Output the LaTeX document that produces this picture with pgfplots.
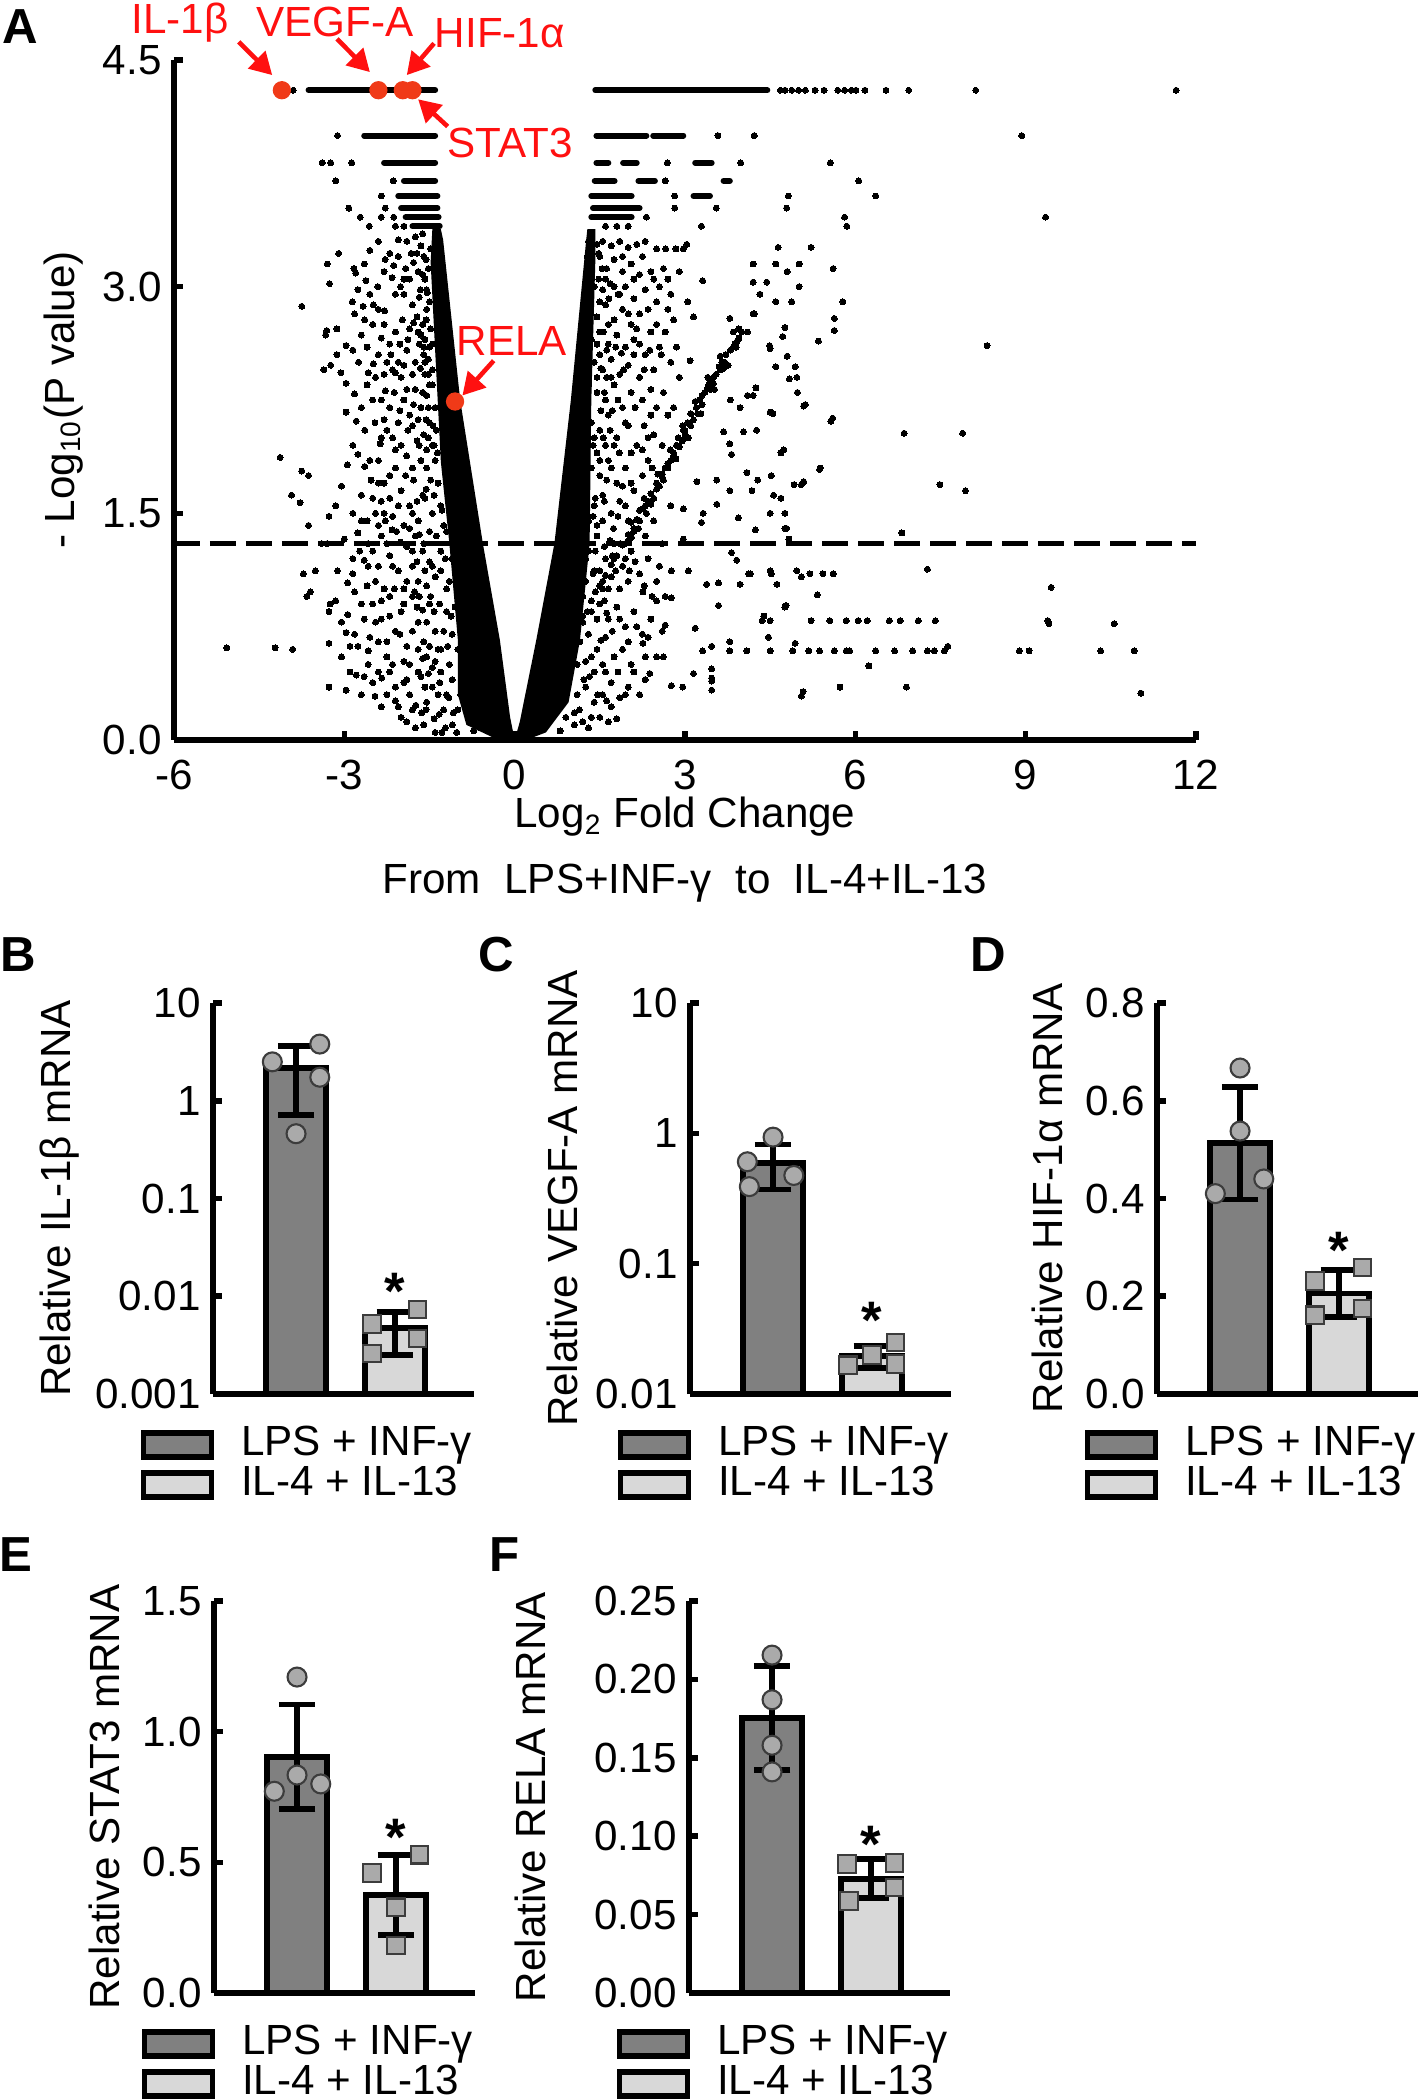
\documentclass[border=0pt]{standalone}
\usepackage{fontspec}
\setmainfont{Liberation Sans}
\usepackage{pgfplots}
\pgfplotsset{compat=1.18}
\usetikzlibrary{arrows.meta}

\definecolor{lpsgray}{RGB}{128,128,128}
\definecolor{ilgray}{RGB}{216,216,216}
\definecolor{ptgray}{RGB}{170,170,170}
\definecolor{ptedge}{RGB}{60,60,60}
\definecolor{annred}{RGB}{255,16,16}
\definecolor{dotred}{RGB}{240,58,24}

\newcommand\tickfont{\fontsize{12}{14}\selectfont}
\newcommand\labfont{\fontsize{12}{14}\selectfont}
\newcommand\annfont{\fontsize{12}{14}\selectfont}
\newcommand\letterfont{\fontsize{14}{16}\selectfont\bfseries}

\tikzset{starnode/.style={font=\fontsize{15}{15}\selectfont\bfseries, yshift=-0.12cm}}

\pgfplotsset{
  panel/.style={
    scale only axis, anchor=south west, clip=false,
    axis lines=left, axis line style={-, line width=1.6pt},
    tick align=inside, major tick length=0.09cm,
    tick style={black, line width=1.6pt},
    tick label style={font=\tickfont},
    label style={font=\labfont},
  },
  barpanel/.style={
    panel, width=2.61cm, height=3.91cm,
    xmin=0.16, xmax=2.8, xtick=\empty,
    legend cell align=left,
    legend style={draw=none, fill=none, inner sep=0pt,
      at={(-0.28,-0.078)}, anchor=north west,
      font=\labfont, row sep=0pt,
      nodes={inner sep=0.01cm, text height=0.29cm, text depth=0.09cm},
      /tikz/every odd column/.append style={column sep=0.26cm}},
  },
  lpsbar/.style={ybar, bar width=0.61, bar shift=0pt, fill=lpsgray, draw=black, line width=1.6pt,
    legend image code/.code={\draw[##1,/tikz/.cd,line width=1.6pt] (0cm,-0.12cm) rectangle (0.68cm,0.12cm);}},
  ilbar/.style={lpsbar, fill=ilgray},
  lpspts/.style={forget plot, only marks, mark=*, mark size=2.7pt,
    mark options={fill=ptgray, draw=ptedge, line width=0.6pt}},
  ilpts/.style={forget plot, only marks, mark=square*, mark size=2.5pt,
    mark options={fill=ptgray, draw=ptedge, line width=0.6pt}},
  sdbars/.style={forget plot, draw=none, mark=none,
    error bars/.cd, y dir=both, y explicit,
    error bar style={draw=black, line width=1.6pt},
    error mark options={rotate=90, draw=black, line width=1.6pt, mark size=5.2pt}},
  vdots/.style={only marks, mark=*, mark size=0.85pt, mark options={fill=black, draw=black, line width=0pt}},
  rowseg/.style={black, line width=1.7pt, line cap=round},
}

\begin{document}
\begin{tikzpicture}
\useasboundingbox (0,0) rectangle (14.23,21.00);

% ---------------- A: volcano plot
\begin{axis}[panel,
  at={(1.74cm,13.60cm)}, width=10.22cm, height=6.80cm,
  xmin=-6, xmax=12, ymin=0, ymax=4.5,
  xtick={-6,-3,0,3,6,9,12}, xticklabels={-6,-3,0,3,6,9,12},
  ytick={0,1.5,3,4.5}, yticklabels={0.0,1.5,3.0,4.5},
  xticklabel style={yshift=-0.08cm},
  xlabel={Log\textsubscript{2} Fold Change},
  ylabel={- Log\textsubscript{10}(P value)},
  xlabel style={at={(axis description cs:0.5,-0.113)}, anchor=center},
  ylabel style={at={(axis description cs:-0.108,0.5)}, anchor=center},
]
% dense cores of the V
\addplot[fill=black, draw=none] coordinates {
  (0,0) (-0.4,0.02) (-0.85,0.1) (-1.0,0.3) (-1.0,0.66) (-1.15,1.3) (-1.3,1.84) (-1.42,2.72)
  (-1.48,3.16) (-1.45,3.38) (-1.3,3.38) (-1.26,3.31) (-0.96,2.25) (-0.56,1.3) (-0.26,0.66) (-0.08,0.15)} --cycle;
\addplot[fill=black, draw=none] coordinates {
  (0,0) (0.09,0.12) (0.38,0.66) (0.70,1.3) (0.99,2.25) (1.26,3.31) (1.28,3.38) (1.42,3.38)
  (1.42,3.16) (1.35,2.25) (1.32,1.3) (1.15,0.66) (0.95,0.25) (0.55,0.05) (0.2,0.0)} --cycle;

% discrete p-value rows (runs of touching points)
\addplot[rowseg] coordinates {(-3.63,4.30) (-1.40,4.30)};
\addplot[rowseg] coordinates {(1.42,4.30) (4.45,4.30)};
\addplot[rowseg] coordinates {(-2.65,4.00) (-1.40,4.00)};
\addplot[rowseg] coordinates {(1.44,4.00) (2.32,4.00)};
\addplot[rowseg] coordinates {(2.44,4.00) (2.97,4.00)};
\addplot[rowseg] coordinates {(-2.30,3.82) (-1.40,3.82)};
\addplot[rowseg] coordinates {(1.44,3.82) (1.65,3.82)};
\addplot[rowseg] coordinates {(1.91,3.82) (2.15,3.82)};
\addplot[rowseg] coordinates {(3.18,3.82) (3.47,3.82)};
\addplot[rowseg] coordinates {(-1.95,3.70) (-1.40,3.70)};
\addplot[rowseg] coordinates {(1.41,3.70) (1.76,3.70)};
\addplot[rowseg] coordinates {(2.18,3.70) (2.47,3.70)};
\addplot[rowseg] coordinates {(3.68,3.70) (3.79,3.70)};
\addplot[rowseg] coordinates {(-2.05,3.60) (-1.36,3.60)};
\addplot[rowseg] coordinates {(1.35,3.60) (2.06,3.60)};
\addplot[rowseg] coordinates {(3.15,3.60) (3.44,3.60)};
\addplot[rowseg] coordinates {(-2.00,3.52) (-1.36,3.52)};
\addplot[rowseg] coordinates {(1.38,3.52) (2.20,3.52)};
\addplot[rowseg] coordinates {(-1.92,3.46) (-1.34,3.46)};
\addplot[rowseg] coordinates {(1.35,3.46) (2.06,3.46)};
\addplot[rowseg] coordinates {(-1.80,3.40) (-1.32,3.40)};

% single points on the rows
\addplot[vdots] coordinates {
  (-3.90,4.30) (4.68,4.30) (4.76,4.30) (4.88,4.30) (5.00,4.30) (5.12,4.30) (5.29,4.30) (5.45,4.30)
  (5.69,4.30) (5.81,4.30) (5.93,4.30) (6.01,4.30) (6.17,4.30) (6.54,4.30) (6.94,4.30) (8.12,4.30) (11.65,4.30)
  (-3.12,4.00) (3.58,4.00) (4.22,4.00) (8.93,4.00)
  (-3.39,3.82) (-3.24,3.82) (-2.87,3.82) (2.69,3.82) (3.98,3.82) (5.56,3.82)
  (-3.15,3.70) (-2.14,3.70) (2.65,3.70) (6.06,3.70)
  (-2.35,3.60) (2.82,3.60) (4.82,3.60) (6.36,3.60)
  (-2.92,3.52) (-2.28,3.52) (2.82,3.52) (3.55,3.52) (4.79,3.52)
  (-2.72,3.46) (-2.35,3.46) (-2.13,3.46) (2.32,3.46) (5.81,3.46) (9.35,3.46)
  (-2.56,3.40) (-2.10,3.40) (-1.95,3.40) (1.60,3.40) (1.80,3.40) (2.00,3.40) (3.29,3.40) (5.85,3.40)
};

% left side scatter
\addplot[vdots] coordinates {
  (-1.62,3.35) (-1.75,3.33) (-1.90,3.30) (-2.05,3.31) (-2.40,3.30) (-2.55,3.24) (-2.28,3.18) (-2.13,3.14)
  (-2.16,3.06) (-2.01,3.00) (-1.85,3.05) (-1.70,3.10) (-1.60,3.20) (-1.55,2.98) (-1.68,2.93) (-1.80,2.88)
  (-1.95,2.95) (-2.41,3.00) (-2.62,3.04) (-2.76,2.98) (-2.83,3.12) (-2.80,3.09) (-3.10,3.22) (-3.30,3.15)
  (-3.26,3.02) (-2.86,2.90) (-2.29,2.84) (-2.49,2.88) (-2.67,2.87) (-3.75,2.87) (-2.20,3.22) (-1.65,3.27)
  (-1.78,3.16) (-1.92,3.12) (-2.05,3.20) (-1.52,3.12) (-1.58,3.05) (-1.72,3.22)
  (-3.33,2.68) (-3.31,2.71) (-3.13,2.72) (-2.82,2.82) (-2.64,2.78) (-2.97,2.61) (-2.85,2.58) (-3.24,2.48)
  (-3.36,2.45) (-3.13,2.55) (-3.06,2.43) (-2.58,2.43) (-2.49,2.49) (-1.55,2.85) (-1.62,2.75) (-1.72,2.80)
  (-1.85,2.72) (-1.98,2.78) (-2.10,2.70) (-2.20,2.62) (-2.35,2.66) (-1.50,2.60) (-1.60,2.55) (-1.75,2.50)
  (-1.90,2.58) (-2.05,2.50) (-2.15,2.45) (-2.40,2.55) (-1.45,2.45) (-1.58,2.42) (-1.68,2.62) (-1.80,2.42)
  (-2.00,2.40) (-2.25,2.50) (-2.70,2.68) (-2.50,2.75) (-1.48,2.72) (-1.65,2.68) (-1.52,2.52)
  (-2.97,2.36) (-2.82,2.29) (-2.97,2.17) (-2.28,2.31) (-2.10,2.43) (-2.79,2.11) (-2.64,2.05) (-2.46,2.10)
  (-2.37,1.96) (-2.85,1.95) (-2.76,1.89) (-1.45,2.35) (-1.55,2.28) (-1.65,2.20) (-1.75,2.32) (-1.85,2.15)
  (-1.95,2.25) (-2.05,2.10) (-2.20,2.20) (-1.50,2.10) (-1.60,2.02) (-1.72,1.98) (-1.88,2.05) (-2.00,1.95)
  (-2.15,2.00) (-2.30,2.12) (-1.42,1.95) (-1.55,1.92) (-2.50,2.25) (-2.60,2.35) (-1.40,2.20) (-1.38,2.05)
  (-2.64,1.81) (-2.53,1.72) (-4.13,1.87) (-3.75,1.78) (-3.63,1.75) (-3.93,1.62) (-3.78,1.57) (-3.63,1.42)
  (-3.27,1.48) (-2.28,1.45) (-2.16,1.39) (-2.95,1.82) (-3.05,1.68) (-3.15,1.55) (-2.85,1.50) (-2.70,1.62)
  (-2.40,1.85) (-2.30,1.70) (-2.20,1.60) (-2.10,1.80) (-2.00,1.65) (-1.90,1.88) (-1.85,1.55) (-1.78,1.72)
  (-1.70,1.45) (-1.62,1.62) (-1.55,1.80) (-1.45,1.50) (-1.35,1.70) (-1.40,1.85) (-2.45,1.50) (-2.60,1.45)
  (-1.95,1.42) (-2.35,1.58) (-2.15,1.48) (-1.30,1.55) (-1.25,1.42)
  (-2.76,1.37) (-2.58,1.30) (-2.73,1.25) (-2.65,1.19) (-2.58,1.15) (-2.01,1.31) (-3.72,1.10) (-3.51,1.12)
  (-3.12,1.12) (-2.94,1.04) (-3.30,1.30) (-3.40,1.30) (-2.35,1.35) (-2.20,1.22) (-2.05,1.12) (-1.90,1.28)
  (-1.80,1.15) (-1.70,1.05) (-1.60,1.30) (-1.50,1.18) (-1.40,1.08) (-1.30,1.25) (-2.45,1.05) (-2.30,1.00)
  (-2.85,1.20) (-3.00,1.33) (-1.95,1.00) (-1.75,1.35) (-2.50,1.25) (-1.20,1.38) (-1.10,1.20) (-1.15,1.05)
  (-3.60,0.98) (-3.66,0.95) (-3.15,0.92) (-3.27,0.85) (-2.94,0.83) (-2.82,0.98) (-2.97,0.71) (-2.82,0.70)
  (-2.76,0.62) (-2.58,0.59) (-5.07,0.61) (-4.22,0.61) (-3.91,0.60) (-3.27,0.64) (-2.50,0.90) (-2.35,0.80)
  (-2.20,0.95) (-2.10,0.72) (-2.00,0.85) (-1.90,0.62) (-1.80,0.95) (-1.70,0.78) (-1.60,0.65) (-1.50,0.90)
  (-1.40,0.72) (-1.30,0.60) (-1.20,0.85) (-1.10,0.70) (-1.00,0.60) (-2.65,0.80) (-2.40,0.65) (-2.25,0.55)
  (-1.85,0.50) (-1.55,0.55) (-3.25,0.90) (-3.05,0.78) (-2.90,0.62) (-1.05,0.88) (-0.95,0.75)
  (-3.27,0.35) (-2.97,0.33) (-2.79,0.43) (-2.58,0.50) (-2.34,0.41) (-2.46,0.29) (-2.10,0.26) (-1.95,0.38)
  (-1.74,0.23) (-1.56,0.20) (-1.33,0.17) (-1.20,0.30) (-1.00,0.20) (-0.90,0.40) (-0.80,0.12) (-0.70,0.25)
  (-1.45,0.35) (-1.65,0.42) (-1.85,0.30) (-2.20,0.45) (-2.00,0.15) (-1.60,0.10) (-1.10,0.10) (-0.95,0.30)
  (-1.30,0.45) (-0.60,0.08) (-0.50,0.15) (-2.35,0.22) (-1.75,0.08) (-1.40,0.05) (-0.85,0.50) (-0.75,0.38)
};
% left side: dense band next to the core
\addplot[vdots] coordinates {
  (-1.48,3.25) (-1.62,3.08) (-1.50,2.90) (-1.58,2.65) (-1.70,2.70) (-1.50,2.35) (-1.62,2.30) (-1.70,2.12)
  (-1.52,2.00) (-1.65,1.85) (-1.48,1.72) (-1.58,1.60) (-1.72,1.58) (-1.50,1.38) (-1.62,1.25) (-1.45,1.15)
  (-1.55,1.02) (-1.68,0.95) (-1.42,0.85) (-1.55,0.78) (-1.35,0.60) (-1.45,0.48) (-1.58,0.35) (-1.25,0.20)
  (-1.35,0.30) (-1.15,0.50) (-1.25,0.72) (-1.32,0.90) (-1.50,0.62) (-1.20,1.00) (-1.30,1.12) (-1.38,1.35)
  (-1.10,0.40) (-1.18,0.62) (-1.08,0.18) (-1.22,0.08) (-1.45,1.95) (-1.52,2.20) (-1.58,2.50) (-1.45,2.62)
  (-1.82,3.22) (-1.95,3.05) (-2.10,2.95) (-1.88,2.65) (-2.02,2.62) (-2.18,2.55) (-2.30,2.42) (-1.95,2.48)
  (-2.12,2.30) (-1.90,2.32) (-2.35,2.25) (-2.02,2.18) (-2.25,2.05) (-1.80,2.08) (-2.10,1.92) (-1.92,1.75)
  (-2.20,1.75) (-2.40,1.70) (-2.05,1.55) (-2.30,1.50) (-1.85,1.40) (-2.08,1.38) (-2.40,1.42) (-2.25,1.30)
  (-1.80,1.25) (-2.15,1.15) (-2.40,1.15) (-1.90,1.05) (-2.12,1.00) (-2.35,0.92) (-1.72,0.88) (-1.95,0.90)
  (-2.20,0.82) (-2.45,0.78) (-1.80,0.72) (-2.02,0.70) (-2.25,0.65) (-1.70,0.60) (-1.95,0.52) (-2.15,0.50)
  (-2.40,0.45) (-1.70,0.45) (-1.90,0.40) (-2.10,0.35) (-1.55,0.25) (-1.80,0.20) (-2.05,0.22) (-2.25,0.30)
  (-1.90,0.12) (-2.50,0.38) (-2.65,0.42) (-2.70,0.30) (-2.90,0.45) (-3.05,0.55) (-2.55,0.68) (-2.70,0.90)
  (-2.85,1.10) (-2.60,1.02) (-2.70,1.45) (-2.50,1.60) (-2.55,1.85) (-2.35,2.00) (-2.70,2.20) (-2.45,2.40)
  (-2.60,2.60) (-2.30,2.75) (-2.75,2.50) (-2.40,2.85) (-2.55,2.95) (-2.30,3.10) (-2.65,3.15)
  (-1.56,3.18) (-1.66,2.98) (-1.78,2.76) (-1.56,2.78) (-1.66,2.46) (-1.78,2.22) (-1.56,2.12) (-1.68,1.95)
  (-1.80,1.80) (-1.56,1.66) (-1.68,1.36) (-1.80,1.50) (-1.58,1.12) (-1.72,1.18) (-1.62,0.86) (-1.76,0.98)
  (-1.48,0.95) (-1.40,0.52) (-1.52,0.44) (-1.62,0.54) (-1.32,0.38) (-1.16,0.28) (-1.42,0.14) (-1.64,0.18)
  (-1.28,0.05) (-1.02,0.05) (-0.72,0.06) (-1.12,0.82) (-1.22,1.20) (-1.28,1.52) (-1.42,1.62) (-1.36,1.90)
  (-1.44,2.08) (-1.52,2.42) (-1.60,2.60) (-1.54,2.96)
};

% right side scatter
\addplot[vdots] coordinates {
  (1.30,3.30) (1.45,3.28) (1.55,3.30) (1.70,3.27) (1.85,3.30) (2.00,3.26) (2.15,3.28) (2.30,3.30)
  (2.50,3.25) (2.66,3.25) (2.84,3.25) (2.97,3.25) (3.03,3.28) (1.35,3.15) (1.50,3.20) (1.62,3.12)
  (1.75,3.18) (1.90,3.10) (2.05,3.15) (2.20,3.08) (2.62,3.12) (2.45,3.05) (1.40,3.00) (1.55,2.98)
  (1.68,3.02) (1.82,2.95) (1.95,3.00) (2.10,2.92) (2.30,2.98) (2.75,2.95) (2.55,3.00) (3.05,2.90)
  (3.15,2.80) (1.28,3.20) (1.32,3.05)
  (1.30,2.85) (1.45,2.80) (1.60,2.88) (1.75,2.78) (1.90,2.85) (2.05,2.75) (2.20,2.82) (2.40,2.70)
  (1.35,2.65) (1.50,2.70) (1.65,2.62) (1.80,2.68) (1.95,2.60) (2.10,2.65) (2.30,2.55) (2.55,2.60)
  (1.40,2.50) (1.55,2.45) (1.70,2.52) (1.85,2.42) (2.00,2.48) (2.20,2.40) (2.45,2.45) (2.70,2.85)
  (2.80,2.78) (3.09,2.51) (2.75,2.50) (2.90,2.40) (1.28,2.55) (1.25,2.75)
  (1.30,2.35) (1.45,2.30) (1.60,2.25) (1.75,2.35) (1.90,2.20) (2.05,2.30) (2.25,2.25) (2.40,2.15)
  (1.35,2.10) (1.50,2.05) (1.65,2.15) (1.80,2.00) (2.00,2.08) (2.15,1.95) (2.35,2.00) (1.25,1.95)
  (1.45,1.90) (1.60,1.95) (2.62,2.30) (2.50,2.20) (2.80,2.20) (2.60,1.95) (1.22,2.20)
  (1.20,1.85) (1.35,1.80) (1.50,1.75) (1.65,1.85) (1.80,1.70) (1.95,1.80) (2.10,1.65) (1.25,1.60)
  (1.40,1.55) (1.55,1.62) (1.70,1.50) (1.85,1.58) (2.00,1.45) (2.20,1.52) (1.30,1.45) (1.45,1.42)
  (2.35,1.85) (2.97,1.53) (3.21,1.71) (2.75,1.55) (1.15,1.70) (1.10,1.50)
  (1.00,1.35) (1.15,1.30) (1.30,1.25) (1.45,1.35) (1.60,1.20) (1.75,1.30) (1.90,1.15) (2.05,1.25)
  (2.20,1.10) (2.35,1.20) (2.50,1.05) (1.10,1.10) (1.25,1.05) (1.40,1.12) (1.55,1.00) (1.70,1.08)
  (1.85,1.00) (2.00,1.05) (2.76,1.12) (3.06,1.12) (2.97,1.33) (0.95,1.15)
  (0.90,0.95) (1.05,0.90) (1.20,0.95) (1.35,0.85) (1.50,0.90) (1.65,0.80) (1.80,0.88) (1.95,0.75)
  (2.10,0.85) (2.25,0.70) (2.40,0.80) (2.60,0.72) (0.85,0.70) (1.00,0.75) (1.15,0.65) (1.30,0.70)
  (1.45,0.60) (1.60,0.68) (1.75,0.55) (1.90,0.60) (2.05,0.50) (2.30,0.55) (0.80,0.50) (0.95,0.55)
  (1.10,0.50) (1.25,0.52) (2.26,0.98) (2.50,0.92) (2.76,0.94) (2.65,0.76) (2.62,0.55) (2.26,0.64)
  (3.18,0.74) (3.47,0.62) (3.79,0.65) (3.38,1.03) (3.59,1.04) (3.59,0.89) (3.97,1.03)
  (0.65,0.40) (0.80,0.35) (0.95,0.38) (1.10,0.30) (1.25,0.35) (1.40,0.25) (1.55,0.30) (1.70,0.22)
  (1.85,0.28) (0.70,0.20) (0.90,0.15) (1.05,0.18) (1.20,0.12) (1.35,0.15) (0.55,0.12) (0.40,0.10)
  (2.38,0.44) (2.76,0.36) (2.96,0.35) (3.15,0.44) (3.47,0.41) (3.47,0.33) (2.00,0.35) (1.60,0.45) (2.20,0.30)
};
% right side: dense band next to the core
\addplot[vdots] coordinates {
  (1.48,3.22) (1.60,3.05) (1.75,3.00) (1.90,3.20) (2.10,3.05) (2.25,3.20) (2.40,3.10) (1.50,2.90)
  (1.65,2.75) (1.85,2.95) (2.00,2.82) (2.15,2.72) (2.35,2.85) (2.50,2.75) (1.50,2.55) (1.62,2.40)
  (1.78,2.60) (1.92,2.45) (2.10,2.55) (2.28,2.45) (2.40,2.32) (1.52,2.18) (1.68,2.05) (1.82,2.25)
  (1.95,2.10) (2.12,2.20) (2.28,2.08) (2.45,2.02) (1.50,1.85) (1.62,1.72) (1.75,1.95) (1.90,1.68)
  (2.05,1.90) (2.25,1.75) (2.40,1.58) (1.55,1.45) (1.68,1.32) (1.82,1.48) (1.95,1.55) (2.10,1.38)
  (2.30,1.35) (1.50,1.12) (1.65,1.00) (1.78,1.12) (1.95,1.20) (2.12,1.18) (2.28,1.02) (2.42,0.95)
  (1.45,0.80) (1.58,0.92) (1.72,0.72) (1.85,0.80) (2.00,0.65) (2.15,0.75) (2.35,0.68) (1.40,0.45)
  (1.55,0.50) (1.70,0.38) (1.82,0.45) (1.95,0.30) (2.10,0.45) (2.30,0.40) (1.50,0.15) (1.65,0.12)
  (1.30,0.08) (2.50,0.55) (2.55,1.15) (2.60,1.30) (2.65,0.95) (2.58,2.55) (2.70,2.15) (2.65,2.70)
  (2.85,2.60) (2.50,2.90) (2.70,3.05) (2.90,3.10) (2.45,1.45)
  (1.38,1.10) (1.42,1.60) (1.40,2.00) (1.45,2.62) (1.48,3.05) (1.28,0.85) (1.22,0.40) (1.05,0.10)
  (1.35,0.55) (1.38,1.95) (1.45,2.40) (2.20,2.62) (2.38,2.58) (2.25,1.92) (2.42,1.80)
  (1.54,3.12) (1.66,2.92) (1.56,2.70) (1.70,2.40) (1.58,2.30) (1.72,2.18) (1.56,2.00) (1.70,1.80)
  (1.58,1.58) (1.74,1.40) (1.58,1.28) (1.42,1.25) (1.72,1.22) (1.42,0.98) (1.62,0.84) (1.52,0.66)
  (1.32,0.42) (1.46,0.30) (1.62,0.26) (1.80,0.14) (1.14,0.20) (0.80,0.06) (1.25,1.20) (1.20,0.78)
  (1.38,1.48) (1.52,2.46) (1.62,2.58) (1.88,2.56) (1.84,1.90) (2.05,1.70) (1.86,1.30) (2.02,1.12)
};

% right side: streak of points and sparse outer points
\addplot[vdots] coordinates {
  (1.20,0.82) (1.35,0.92) (1.50,1.02) (1.55,1.05) (1.60,1.09) (1.70,1.16) (1.75,1.20) (1.80,1.22)
  (1.90,1.29) (1.95,1.30) (2.00,1.36) (2.06,1.34) (2.15,1.46) (2.20,1.45) (2.25,1.53) (2.32,1.50)
  (2.40,1.63) (2.45,1.60) (2.50,1.70) (2.55,1.68) (2.60,1.74) (2.65,1.80) (2.70,1.83) (2.75,1.85)
  (2.80,1.90) (2.85,1.95) (2.88,2.00) (2.95,1.98) (2.97,2.05) (3.00,2.05) (3.05,2.10) (3.10,2.16)
  (3.15,2.12) (3.20,2.20) (3.25,2.25) (3.30,2.28) (3.35,2.30) (3.40,2.33) (3.42,2.35) (3.45,2.38)
  (3.50,2.40) (3.55,2.42) (3.60,2.47) (3.62,2.45) (3.65,2.50) (3.70,2.50) (3.72,2.55) (3.80,2.58)
  (3.85,2.60) (3.88,2.62) (3.95,2.66)
  (2.10,1.40) (2.30,1.55) (2.50,1.66) (2.70,1.80) (2.90,1.94) (3.10,2.08) (3.30,2.22) (3.50,2.36)
  (3.70,2.48) (3.90,2.60) (2.00,1.32) (2.35,1.58) (2.60,1.76) (2.80,1.88) (3.00,2.02) (3.22,2.16)
  (3.45,2.32) (3.68,2.46) (3.92,2.64) (4.00,2.70)
  (2.18,1.40) (2.40,1.56) (2.62,1.72) (2.84,1.86) (3.06,2.00) (3.28,2.16) (3.52,2.32) (3.76,2.48)
  (2.05,1.44) (2.28,1.60) (2.52,1.76) (2.74,1.92) (2.96,2.08) (3.18,2.24) (3.40,2.40) (3.62,2.54)
  (3.31,3.04) (4.20,3.15) (4.60,3.15) (5.01,3.15) (4.80,3.10) (5.22,3.26) (4.64,3.26) (5.61,3.12)
  (4.20,3.03) (4.44,3.03) (4.32,2.95) (5.01,3.00) (4.60,2.90) (4.88,2.90) (5.78,2.90) (5.63,2.79)
  (5.63,2.71) (4.20,2.82) (4.76,2.73) (5.35,2.64) (4.72,2.67) (4.50,2.59) (4.80,2.54) (4.60,2.47)
  (4.94,2.47) (4.84,2.39) (4.98,2.30) (5.09,2.21) (8.32,2.61) (4.50,2.17) (5.57,2.11) (6.86,2.03)
  (7.89,2.03) (4.69,1.90) (5.37,1.79) (4.52,1.75) (4.92,1.69) (5.05,1.69) (4.69,1.60) (7.49,1.69)
  (7.94,1.65) (4.76,1.50) (4.76,1.40) (6.82,1.37) (4.83,1.33)
  (3.79,2.79) (4.22,2.82) (3.85,2.70) (3.95,2.72) (4.10,2.70) (4.49,2.61) (4.97,2.40) (5.12,2.22)
  (4.20,2.28) (4.10,2.28) (4.25,2.33) (5.60,2.13) (4.55,2.16) (3.97,2.20) (3.80,2.25) (3.56,1.56)
  (3.79,1.65) (3.56,1.72) (3.82,1.89) (4.09,1.77) (4.28,1.72) (4.18,1.65) (4.56,1.62) (3.68,2.04)
  (3.79,1.96) (4.03,2.04) (4.26,2.05) (4.74,1.92) (3.32,1.50) (4.50,1.50) (4.79,1.40) (3.94,1.47)
  (4.24,1.39) (3.82,1.24) (3.91,1.19) (5.38,1.80) (5.09,1.71) (3.29,1.44) (4.15,1.10) (4.50,1.12)
  (4.62,1.03) (4.78,0.89) (4.39,0.82) (4.47,0.68) (4.94,0.64) (5.08,0.32)
  (7.27,1.13) (4.97,1.12) (5.05,1.08) (5.20,1.10) (5.43,1.10) (5.61,1.10) (4.52,1.10) (4.12,1.10)
  (9.45,1.01) (5.33,0.96) (4.76,0.88) (4.36,0.79) (4.50,0.79) (5.22,0.79) (5.55,0.79) (5.84,0.79)
  (6.05,0.79) (6.21,0.79) (6.60,0.79) (6.79,0.79) (7.11,0.79) (7.41,0.79) (9.39,0.79) (9.41,0.77)
  (10.56,0.77) (3.79,0.59) (4.09,0.59) (4.50,0.59) (4.90,0.59) (5.18,0.59) (5.37,0.59) (5.63,0.59)
  (5.84,0.59) (5.90,0.59) (6.36,0.59) (6.69,0.59) (7.01,0.59) (7.27,0.59) (7.39,0.59) (7.57,0.59)
  (7.63,0.62) (8.89,0.59) (9.06,0.59) (10.32,0.59) (10.91,0.59) (6.24,0.49) (3.47,0.47) (3.47,0.39)
  (5.73,0.35) (6.90,0.35) (5.05,0.29) (11.03,0.31) (3.31,0.59)
};

% significance threshold
\addplot[black, line width=1.4pt, dash pattern=on 0.26cm off 0.1cm] coordinates {(-6,1.3) (12,1.3)};

% highlighted genes
\addplot[only marks, mark=*, mark size=2.4pt, mark options={fill=dotred, draw=dotred}]
  coordinates {(-4.10,4.30) (-2.40,4.30) (-1.97,4.30) (-1.80,4.30) (-1.05,2.24)};

\begin{scope}[annred, line width=1.3pt, -{Triangle[length=0.22cm,width=0.24cm]}]
\draw (axis cs:-4.86,4.62) -- (axis cs:-4.27,4.40);
\draw (axis cs:-3.13,4.64) -- (axis cs:-2.55,4.42);
\draw (axis cs:-1.42,4.61) -- (axis cs:-1.90,4.40);
\draw (axis cs:-1.18,4.06) -- (axis cs:-1.70,4.24);
\draw (axis cs:-0.37,2.51) -- (axis cs:-0.92,2.28);
\end{scope}
\node[annred, font=\annfont] at (axis cs:-5.89,4.745) {IL-1β};
\node[annred, font=\annfont] at (axis cs:-3.17,4.75) {VEGF-A};
\node[annred, font=\annfont] at (axis cs:-0.26,4.68) {HIF-1α};
\node[annred, font=\annfont] at (axis cs:-0.08,3.95) {STAT3};
\node[annred, font=\annfont] at (axis cs:-0.05,2.64) {RELA};
\node[font=\labfont] at (axis description cs:0.5,-0.21) {From\ \ LPS+INF-γ\ \ to\ \ IL-4+IL-13};
\end{axis}

% ---------------- B: IL-1beta
\begin{axis}[barpanel, at={(2.13cm,7.06cm)},
  ymode=log, log origin y=infty, ymin=0.001, ymax=10, yminorticks=false,
  ytick={0.001,0.01,0.1,1,10}, yticklabels={0.001,0.01,0.1,1,10},
  ylabel={Relative IL-1β mRNA},
  ylabel style={at={(axis description cs:-0.586,0.5)}, anchor=center},
]
\addplot[lpsbar] coordinates {(1,2.16)};
\addlegendentry{LPS + INF-γ}
\addplot[ilbar] coordinates {(2,0.0047)};
\addlegendentry{IL-4 + IL-13}
\addplot[lpspts] coordinates {(1.24,3.8) (0.76,2.5) (1.24,1.74) (1.0,0.46)};
\addplot[ilpts] coordinates {(2.23,0.0073) (1.77,0.0052) (2.23,0.0037) (1.77,0.0026)};
\addplot[sdbars] coordinates {(1,2.16) +- (0,1.45) (2,0.0047) +- (0,0.0022)};
\node[starnode] at (axis cs:2,0.0148) {*};
\end{axis}

% ---------------- C: VEGF-A
\begin{axis}[barpanel, at={(6.90cm,7.06cm)},
  ymode=log, log origin y=infty, ymin=0.01, ymax=10, yminorticks=false,
  ytick={0.01,0.1,1,10}, yticklabels={0.01,0.1,1,10},
  ylabel={Relative VEGF-A mRNA},
  ylabel style={at={(axis description cs:-0.49,0.5)}, anchor=center},
]
\addplot[lpsbar] coordinates {(1,0.595)};
\addlegendentry{LPS + INF-γ}
\addplot[ilbar] coordinates {(2,0.0196)};
\addlegendentry{IL-4 + IL-13}
\addplot[lpspts] coordinates {(1.0,0.935) (0.74,0.605) (1.21,0.475) (0.76,0.39)};
\addplot[ilpts] coordinates {(2.24,0.0249) (1.76,0.0166) (2.24,0.017) (2.0,0.0199)};
\addplot[sdbars] coordinates {(1,0.595) +- (0,0.224) (2,0.0196) +- (0,0.0038)};
\node[starnode] at (axis cs:2,0.0457) {*};
\end{axis}

% ---------------- D: HIF-1alpha
\begin{axis}[barpanel, at={(11.57cm,7.06cm)},
  ymin=0, ymax=0.8,
  ytick={0,0.2,0.4,0.6,0.8}, yticklabels={0.0,0.2,0.4,0.6,0.8},
  ylabel={Relative HIF-1α mRNA},
  ylabel style={at={(axis description cs:-0.418,0.5)}, anchor=center},
]
\addplot[lpsbar] coordinates {(1,0.513)};
\addlegendentry{LPS + INF-γ}
\addplot[ilbar] coordinates {(2,0.206)};
\addlegendentry{IL-4 + IL-13}
\addplot[lpspts] coordinates {(1.0,0.667) (1.0,0.538) (1.24,0.44) (0.75,0.41)};
\addplot[ilpts] coordinates {(2.24,0.259) (1.76,0.231) (2.24,0.175) (1.76,0.161)};
\addplot[sdbars] coordinates {(1,0.513) +- (0,0.115) (2,0.206) +- (0,0.048)};
\node[starnode] at (axis cs:2,0.319) {*};
\end{axis}

% ---------------- E: STAT3
\begin{axis}[barpanel, at={(2.14cm,1.07cm)}, height=3.92cm,
  ymin=0, ymax=1.5,
  ytick={0,0.5,1,1.5}, yticklabels={0.0,0.5,1.0,1.5},
  ylabel={Relative STAT3 mRNA},
  ylabel style={at={(axis description cs:-0.421,0.5)}, anchor=center},
]
\addplot[lpsbar] coordinates {(1,0.904)};
\addlegendentry{LPS + INF-γ}
\addplot[ilbar] coordinates {(2,0.375)};
\addlegendentry{IL-4 + IL-13}
\addplot[lpspts] coordinates {(1.0,1.209) (1.0,0.834) (0.77,0.772) (1.24,0.80)};
\addplot[ilpts] coordinates {(2.24,0.529) (1.76,0.459) (2.0,0.328) (2.0,0.182)};
\addplot[sdbars] coordinates {(1,0.904) +- (0,0.2) (2,0.375) +- (0,0.154)};
\node[starnode] at (axis cs:2,0.64) {*};
\end{axis}

% ---------------- F: RELA
\begin{axis}[barpanel, at={(6.89cm,1.07cm)}, height=3.92cm,
  ymin=0, ymax=0.25,
  ytick={0,0.05,0.1,0.15,0.2,0.25}, yticklabels={0.00,0.05,0.10,0.15,0.20,0.25},
  ylabel={Relative RELA mRNA},
  ylabel style={at={(axis description cs:-0.609,0.5)}, anchor=center},
]
\addplot[lpsbar] coordinates {(1,0.1754)};
\addlegendentry{LPS + INF-γ}
\addplot[ilbar] coordinates {(2,0.0729)};
\addlegendentry{IL-4 + IL-13}
\addplot[lpspts] coordinates {(1,0.2155) (1,0.187) (1,0.158) (1,0.141)};
\addplot[ilpts] coordinates {(1.76,0.0824) (2.24,0.083) (2.24,0.0673) (1.78,0.0588)};
\addplot[sdbars] coordinates {(1,0.1754) +- (0,0.033) (2,0.0729) +- (0,0.0125)};
\node[starnode] at (axis cs:2,0.1025) {*};
\end{axis}

% panel letters
\node[font=\letterfont] at (0.20,20.73) {A};
\node[font=\letterfont] at (0.18,11.45) {B};
\node[font=\letterfont] at (4.96,11.45) {C};
\node[font=\letterfont] at (9.88,11.45) {D};
\node[font=\letterfont] at (0.16,5.45) {E};
\node[font=\letterfont] at (5.05,5.45) {F};
\end{tikzpicture}
\end{document}
